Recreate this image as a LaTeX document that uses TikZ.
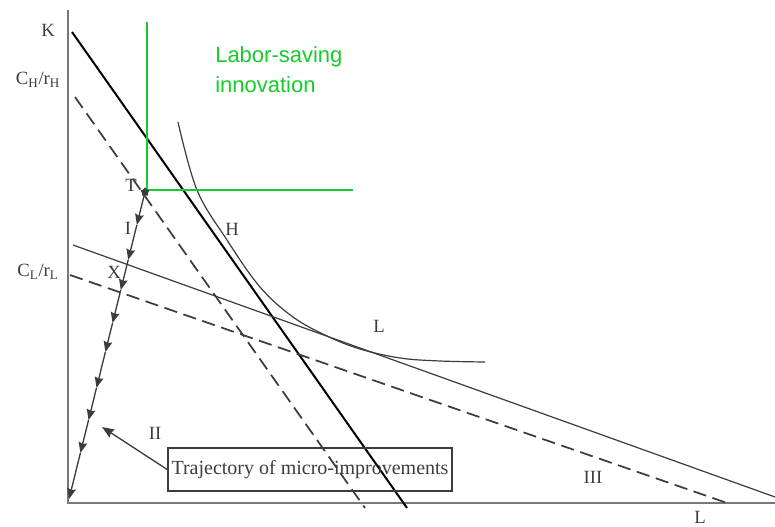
\documentclass[tikz,border=0pt]{standalone}
\usepackage{fontspec}
\setmainfont{Liberation Serif}
\newfontfamily\greenfont{Liberation Sans}
\usetikzlibrary{calc, arrows.meta, shapes.geometric}
\definecolor{innogreen}{RGB}{20,205,40}
\definecolor{axisgray}{RGB}{120,120,120}
\definecolor{linegray}{RGB}{60,60,60}
\tikzset{
  axisline/.style={axisgray, line width=1.4pt},
  budget/.style={linegray, line width=1.3pt, dash pattern=on 10pt off 5pt},
  thinline/.style={linegray, line width=0.9pt},
  lab/.style={font=\fontsize{14}{16}\selectfont, text=linegray, inner sep=0pt},
  trajseg/.style={linegray, line width=1pt, -{Stealth[length=8pt,width=6.5pt,inset=1pt]}},
}

\begin{document}
\begin{tikzpicture}[x=0.75pt, y=-0.75pt]
\useasboundingbox (0,0) rectangle (775,527);
% axes
\coordinate (O) at (68,503);
\coordinate (Ktop) at (68,10);
\coordinate (Lend) at (775,503);
\draw[axisline] (Ktop) -- (O) -- (Lend);
\node[lab] (K) at (48,30) {K};
\node[lab] (CH) at (38,80) {C\textsubscript{H}/r\textsubscript{H}};
\node[lab] (CL) at (38,272) {C\textsubscript{L}/r\textsubscript{L}};
\node[lab] (Laxis) at (700,517) {L};

% budget lines
\coordinate (k1) at (72,32); \coordinate (k2) at (407,508);
\draw[black, line width=1.5pt] (k1) -- (k2);
\coordinate (h1) at (75,97); \coordinate (h2) at (365,508);
\draw[budget] (h1) -- (h2);
\coordinate (l1) at (70,275); \coordinate (l2) at (730,504);
\draw[budget] (l1) -- (l2);
\coordinate (s1) at (73,245); \coordinate (s2) at (775,497);
\draw[thinline] (s1) -- (s2);

% isoquant
\draw[thinline] plot[smooth, tension=0.6] coordinates {(178,122) (197,190) (227,240) (260,287) (293,317) (327,336) (360,349) (400,358) (440,361) (485,362)};
\node[lab] (H) at (232,229) {H};
\node[lab] (Lcurve) at (379,326) {L};

% innovation step
\coordinate (g1) at (147,22); \coordinate (g2) at (147,190); \coordinate (g3) at (353,190);
\draw[innogreen, line width=1.5pt] (g1) -- (g2) -- (g3);
\node[anchor=north west, text=innogreen, font=\greenfont\fontsize{16.5}{22.5}\selectfont, align=left, inner sep=0pt] (inno) at (215,46) {Labor-saving\\innovation};

% trajectory
\coordinate (T) at (145,192);
\coordinate (E) at (69,499);
\node[star, star points=5, fill=linegray, minimum size=7pt, inner sep=0pt] (Tm) at (T) {};
\node[lab] (Tlab) at (131,185) {T};
\node[lab] (I) at (128,228) {I};
\node[lab] (X) at (114,272) {X};
\coordinate (t0) at (T);
\foreach \f [count=\i, remember=\i as \j (initially 0)] in {0.107,0.221,0.319,0.427,0.521,0.638,0.743,0.85,1}{
  \coordinate (t\i) at ($(T)!\f!(E)$);
  \draw[trajseg] (t\j) -- (t\i);
}

% regions
\node[lab] (II) at (155,433) {II};
\node[lab] (III) at (593,477) {III};

% label box
\node[draw=linegray, line width=1.2pt, text=linegray, font=\fontsize{15}{17}\selectfont, minimum width=213pt, minimum height=32pt, inner sep=2pt] (traj) at (310,469.5) {Trajectory of micro-improvements};
\coordinate (ta) at (102,427);
\draw[linegray, line width=1pt, -{Stealth[length=9pt,width=7pt,inset=1pt]}] (traj.west) -- (ta);
\end{tikzpicture}
\end{document}
